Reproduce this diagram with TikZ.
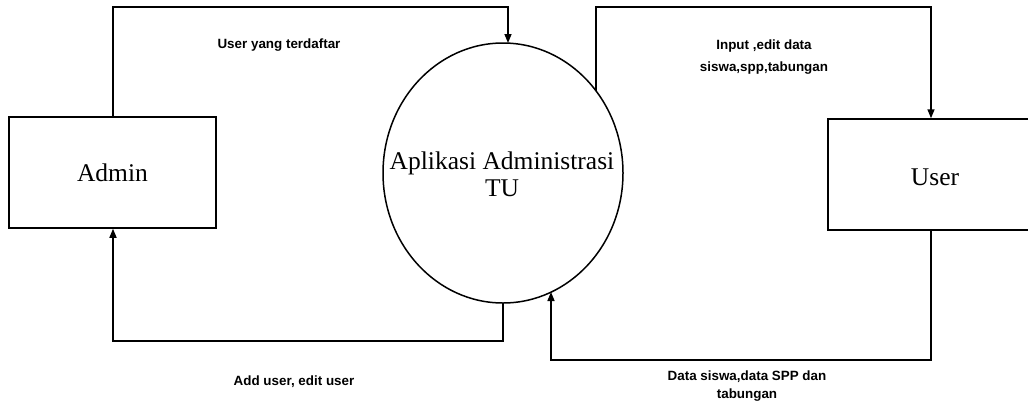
\documentclass[tikz,border=0pt]{standalone}
\usepackage{fontspec}
\setmainfont{Liberation Serif}
\newfontfamily\labelfont{Liberation Sans}
\usetikzlibrary{arrows.meta,shapes.geometric}
\begin{document}
\begin{tikzpicture}[x=1pt,y=-1pt,
  line width=1.5pt,
  entity/.style={draw,rectangle,minimum width=207pt,minimum height=111pt,font=\fontsize{25.5}{28}\selectfont},
  process/.style={draw,ellipse,minimum width=240pt,minimum height=260pt,inner sep=0pt,outer sep=0pt},
  bigtext/.style={align=center,font=\fontsize{25.5}{27}\selectfont},
  flow/.style={-{Triangle[length=9pt,width=7pt]}},
  flowlabel/.style={font=\labelfont\bfseries\fontsize{13.4}{21}\selectfont,align=center,inner sep=0pt}]
\useasboundingbox (0,0) rectangle (1028,408);
\clip (0,0) rectangle (1028,408);

% external entities and the process
\node[entity] (admin) at (112.5,172.5) {Admin};
\node[process] (app) at (503,173) {};
\node[bigtext] (apptext) at (502,174) {Aplikasi Administrasi\\TU};
\node[entity,minimum width=220pt,anchor=west] (user) at (827,174.5) {};
\node[bigtext] (usertext) at (935,177) {User};

% bend points of the data flows
\coordinate (a1) at (113,7);
\coordinate (a2) at (508,7);
\coordinate (b0) at (596,91);
\coordinate (b1) at (596,7);
\coordinate (b2) at (931,7);
\coordinate (c1) at (931,360);
\coordinate (c2) at (551,360);
\coordinate (c3) at (551,292);
\coordinate (d1) at (503,341);
\coordinate (d2) at (113,341);

% data flows
\draw[flow] (admin.north -| a1) -- (a1) -- (a2) -- (app.north -| a2);
\draw[flow] (b0) -- (b1) -- (b2) -- (user.north -| b2);
\draw[flow] (user.south -| c1) -- (c1) -- (c2) -- (c3);
\draw[flow] (app.south) -- (d1) -- (d2) -- (admin.south -| d2);

% flow labels
\node[flowlabel] (l1) at (279,45) {User yang terdaftar};
\node[flowlabel,font=\labelfont\bfseries\fontsize{13.4}{22}\selectfont] (l2) at (764,57) {Input ,edit data\\siswa,spp,tabungan};
\node[flowlabel] (l3) at (294,382) {Add user, edit user};
\node[flowlabel,font=\labelfont\bfseries\fontsize{13.4}{18}\selectfont] (l4) at (747,386) {Data siswa,data SPP dan\\tabungan};
\end{tikzpicture}
\end{document}
